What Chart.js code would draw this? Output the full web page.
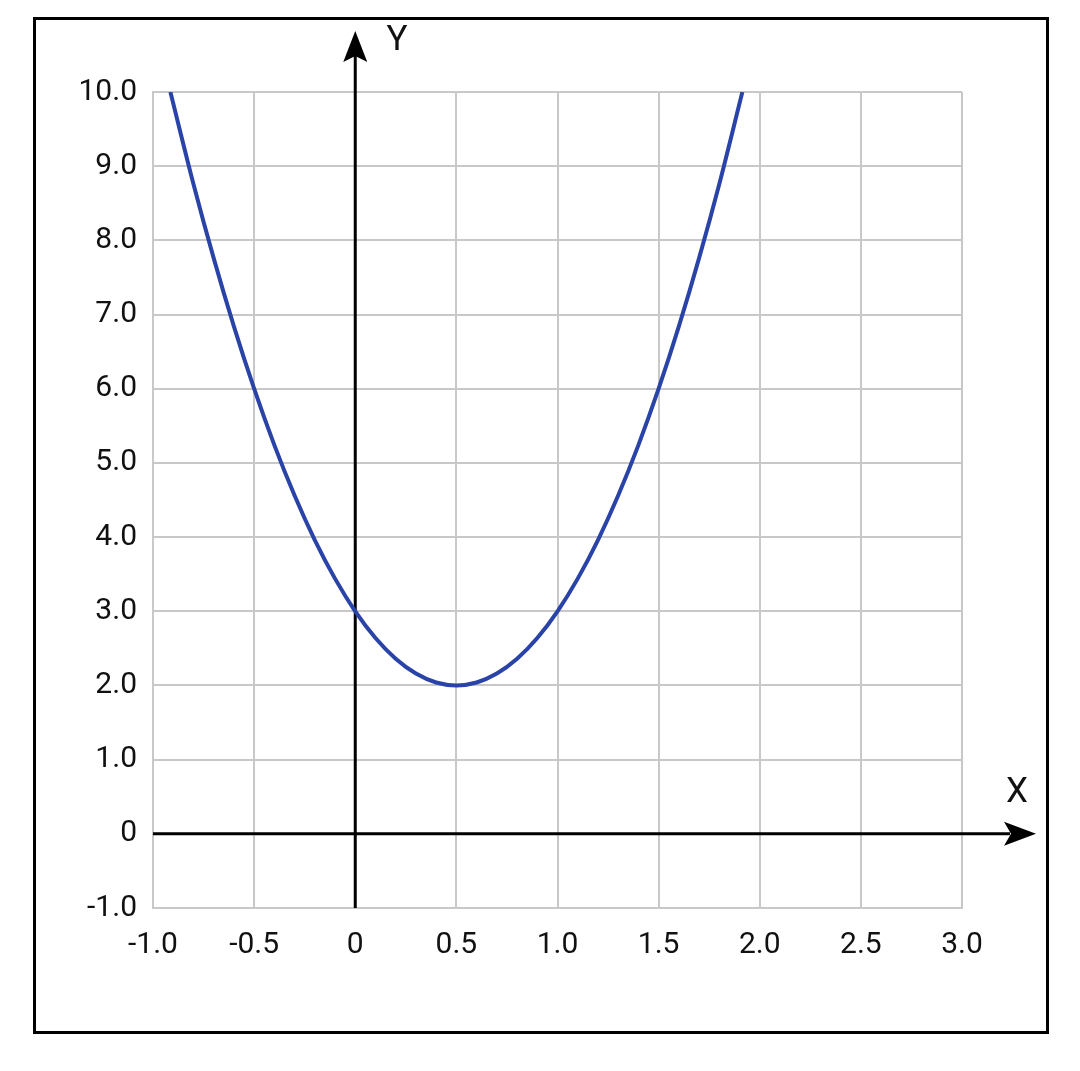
<!DOCTYPE html>
<html>
<head>
<meta charset="utf-8">
<script src="https://cdn.jsdelivr.net/npm/chart.js@4/dist/chart.umd.min.js"></script>
<style>
  html, body { margin: 0; padding: 0; background: #fff; }
  #wrap { width: 1080px; height: 1071px; }
</style>
</head>
<body>
<div id="wrap"><canvas id="chart" width="1080" height="1071"></canvas></div>
<script>
// values
const xValues = [-0.914, -0.8, -0.7, -0.6, -0.5, -0.4, -0.3, -0.2, -0.1, 0, 0.1, 0.2, 0.3, 0.4, 0.5,
  0.6, 0.7, 0.8, 0.9, 1.0, 1.1, 1.2, 1.3, 1.4, 1.5, 1.6, 1.7, 1.8, 1.914];
const yValues = [10.0, 8.76, 7.76, 6.84, 6.0, 5.24, 4.56, 3.96, 3.44, 3.0, 2.64, 2.36, 2.16, 2.04, 2.0,
  2.04, 2.16, 2.36, 2.64, 3.0, 3.44, 3.96, 4.56, 5.24, 6.0, 6.84, 7.76, 8.76, 10.0];
const xTicks = [-1.0, -0.5, 0, 0.5, 1.0, 1.5, 2.0, 2.5, 3.0];
const yTicks = [-1, 0, 1, 2, 3, 4, 5, 6, 7, 8, 9, 10];

const fmt = (v) => (v === 0 ? '0' : Number(v).toFixed(1));
const FONT = 'Roboto, "Noto Sans", sans-serif';

//axes through the origin with arrows, plus the outer frame
const decor = {
  id: 'decor',
  beforeDatasetsDraw(chart) {
    const ctx = chart.ctx;
    const xs = chart.scales.x, ys = chart.scales.y;
    const x0 = xs.getPixelForValue(0);
    const y0 = ys.getPixelForValue(0);
    ctx.save();
    ctx.strokeStyle = '#000';
    ctx.fillStyle = '#000';
    ctx.lineWidth = 3;
    // x axis
    ctx.beginPath();
    ctx.moveTo(chart.chartArea.left, y0);
    ctx.lineTo(1010, y0);
    ctx.stroke();
    ctx.beginPath();
    ctx.moveTo(1036, y0);
    ctx.lineTo(1004, y0 - 12);
    ctx.lineTo(1011, y0);
    ctx.lineTo(1004, y0 + 12);
    ctx.closePath();
    ctx.fill();
    // y axis
    ctx.beginPath();
    ctx.moveTo(x0, chart.chartArea.bottom);
    ctx.lineTo(x0, 55);
    ctx.stroke();
    ctx.beginPath();
    ctx.moveTo(x0, 31);
    ctx.lineTo(x0 - 12, 62);
    ctx.lineTo(x0, 56);
    ctx.lineTo(x0 + 12, 62);
    ctx.closePath();
    ctx.fill();
    ctx.font = '35px ' + FONT;
    ctx.textAlign = 'center';
    ctx.textBaseline = 'middle';
    ctx.fillStyle = '#111';
    ctx.fillText('Y', 397, 41);
    ctx.fillText('X', 1017, 793);
    ctx.restore();
  },
  afterDraw(chart) {
    const ctx = chart.ctx;
    ctx.save();
    ctx.strokeStyle = '#000';
    ctx.lineWidth = 3;
    ctx.strokeRect(34.5, 18.5, 1013, 1014);
    ctx.restore();
  }
};

const data = {
  datasets: [{
    label: 'y',
    data: xValues.map((x, i) => ({ x: x, y: yValues[i] })),
    borderColor: '#2a43a6',
    borderWidth: 4,
    pointRadius: 0,
    cubicInterpolationMode: 'monotone',
    fill: false,
  }],
};

const config = {
  type: 'line',
  data: data,
  options: {
    responsive: false,
    animation: false,
    layout: { padding: { left: 0, top: 92, right: 118, bottom: 0 } },
    plugins: {
      legend: { display: false },
      tooltip: { enabled: false },
      title: { display: false },
    },
    scales: {
      x: {
        type: 'linear',
        min: -1, max: 3,
        afterBuildTicks: (s) => { s.ticks = xTicks.map((v) => ({ value: v })); },
        afterFit: (s) => { s.height = 163; },
        grid: { color: '#c8c8c8', lineWidth: 2, drawTicks: false },
        border: { color: '#c8c8c8', width: 2 },
        ticks: {
          padding: 19,
          color: '#111',
          font: { family: FONT, size: 30 },
          callback: (v) => fmt(v),
          maxRotation: 0,
          autoSkip: false,
        },
      },
      y: {
        type: 'linear',
        min: -1, max: 10,
        afterBuildTicks: (s) => { s.ticks = yTicks.map((v) => ({ value: v })); },
        afterFit: (s) => { s.width = 153; },
        grid: { color: '#c8c8c8', lineWidth: 2, drawTicks: false },
        border: { color: '#c8c8c8', width: 2 },
        ticks: {
          padding: 16,
          color: '#111',
          font: { family: FONT, size: 30 },
          callback: (v) => fmt(v),
          autoSkip: false,
        },
      },
    },
  },
  plugins: [decor],
};

new Chart(document.getElementById('chart'), config);
</script>
</body>
</html>
